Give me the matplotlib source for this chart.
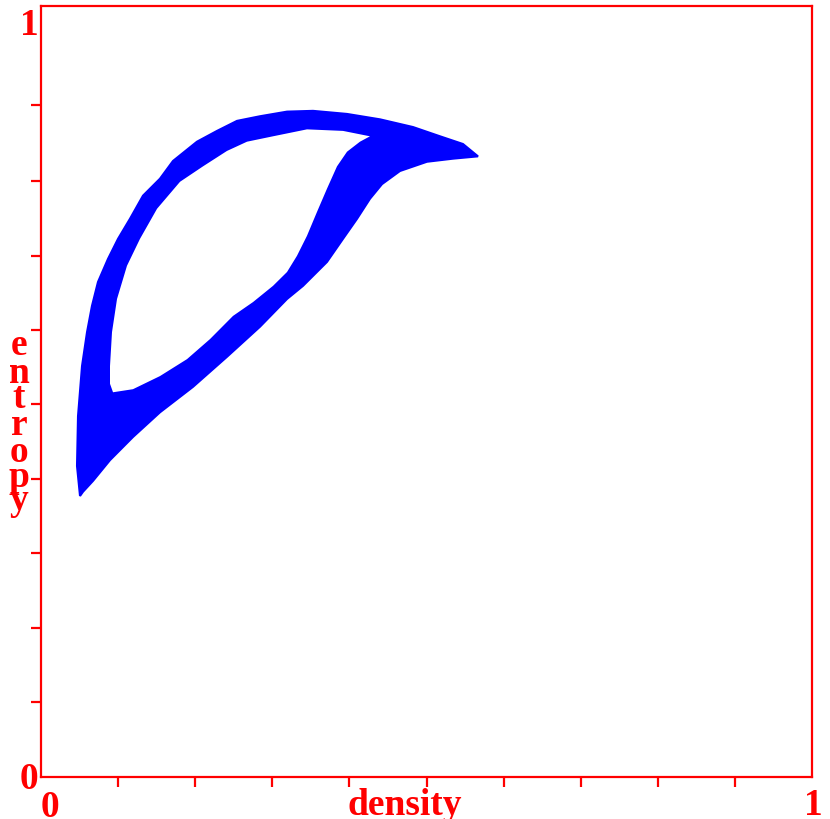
import matplotlib
matplotlib.use('Agg')
import matplotlib.pyplot as plt

# outer edge of the point cloud (density, entropy), clockwise from the bottom tip
outer_density = [0.0506, 0.0467, 0.0480, 0.0532, 0.0597, 0.0661, 0.0739, 0.0869,
                 0.0999, 0.1154, 0.1323, 0.1543, 0.1712, 0.2023, 0.2283, 0.2542,
                 0.2840, 0.3191, 0.3528, 0.3969, 0.4397, 0.4825, 0.5175, 0.5473,
                 0.5668, 0.5344, 0.5006, 0.4656, 0.4423, 0.4267, 0.4099, 0.3917,
                 0.3709, 0.3398, 0.3191, 0.2840, 0.2412, 0.1971, 0.1543, 0.1193,
                 0.0895, 0.0674, 0.0545]
outer_entropy = [0.3645, 0.4034, 0.4680, 0.5330, 0.5770, 0.6110, 0.6420, 0.6720,
                 0.6980, 0.7240, 0.7540, 0.7760, 0.7990, 0.8240, 0.8380, 0.8510,
                 0.8570, 0.8630, 0.8640, 0.8600, 0.8530, 0.8430, 0.8310, 0.8210,
                 0.8050, 0.8020, 0.7980, 0.7860, 0.7690, 0.7500, 0.7240, 0.6980,
                 0.6680, 0.6370, 0.6200, 0.5840, 0.5450, 0.5060, 0.4730, 0.4410,
                 0.4110, 0.3840, 0.3700]

# empty hole inside the loop
hole_density = [0.0895, 0.0934, 0.1193, 0.1543, 0.1894, 0.2192, 0.2490, 0.2750,
                0.3009, 0.3191, 0.3320, 0.3450, 0.3580, 0.3709, 0.3839, 0.3969,
                0.4137, 0.4267, 0.3917, 0.3450, 0.3009, 0.2672, 0.2412, 0.2101,
                0.1803, 0.1505, 0.1284, 0.1115, 0.0986, 0.0921, 0.0895]
hole_entropy = [0.510, 0.499, 0.503, 0.520, 0.542, 0.568, 0.598, 0.616,
                0.637, 0.655, 0.676, 0.702, 0.733, 0.763, 0.792, 0.811,
                0.824, 0.831, 0.838, 0.840, 0.831, 0.824, 0.812, 0.792,
                0.772, 0.737, 0.698, 0.663, 0.620, 0.577, 0.533]

xticks = [0.1, 0.2, 0.3, 0.4, 0.5, 0.6, 0.7, 0.8, 0.9]
yticks = [0.097, 0.193, 0.291, 0.387, 0.484, 0.580, 0.676, 0.773, 0.871]

RED = '#ff0000'
BLUE = '#0000ff'
W, H = 830, 820

fig = plt.figure(figsize=(W / 100, H / 100), dpi=100)
ax = fig.add_axes([41 / W, 1 - 778 / H, 771 / W, 771 / H])
ax.set_xlim(0, 1)
ax.set_ylim(0, 1)

ax.fill(outer_density, outer_entropy, color=BLUE, lw=1.5)
ax.fill(hole_density, hole_entropy, color='white', lw=0)

for s in ax.spines.values():
    s.set_color(RED)
    s.set_linewidth(1.6)
ax.set_xticks(xticks)
ax.set_yticks(yticks)
ax.tick_params(colors=RED, length=7.5, width=1.6, direction='out',
               labelbottom=False, labelleft=False)

font = dict(family='Liberation Serif', weight='bold', color=RED, size=27)

def put(txt, px, py, ha='center'):
    fig.text(px / W, 1 - py / H, txt, ha=ha, va='baseline', **font)

put('1', 29, 35)
put('0', 29, 789)
put('0', 50, 817)
put('1', 813, 815)
put('density', 347, 815, ha='left')
for ch, base in zip('entropy', [355, 383, 408, 435, 462, 487, 510]):
    put(ch, 19, base)

fig.savefig('out.png', dpi=100)
